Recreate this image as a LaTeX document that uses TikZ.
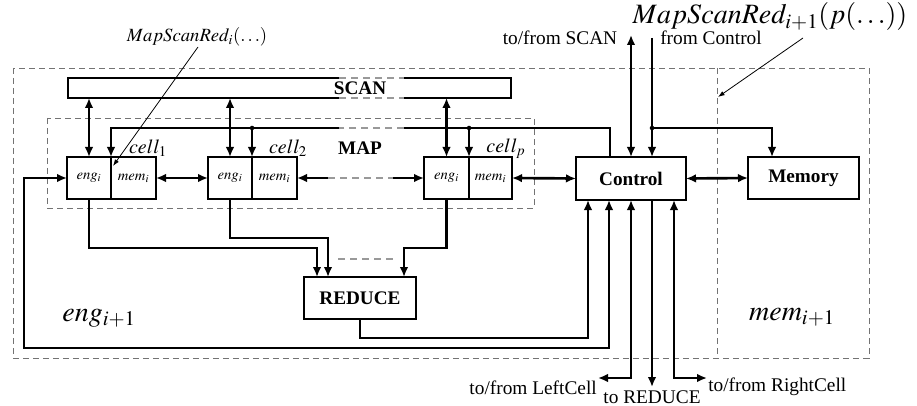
\documentclass[tikz,border=0pt]{standalone}
\usepackage{mathptmx}
\usepackage{fontspec}
\setmainfont{Liberation Serif}
\usetikzlibrary{arrows.meta}
\begin{document}
\begin{tikzpicture}[x=0.75pt,y=-0.75pt,
  thk/.style={line width=2pt, line join=miter},
  dbox/.style={draw=black!55, line width=0.7pt, dash pattern=on 4.5pt off 3pt},
  gdash/.style={draw=black!40, line width=1.1pt, dash pattern=on 5pt off 4pt},
  box/.style={draw, line width=2pt, inner sep=0pt, outer sep=0pt},
  ann/.style={line width=0.6pt, -{Latex[length=5pt,width=3.5pt]}},
  >={Latex[length=7.5pt,width=6.5pt]},
  boldf/.style={font=\fontsize{14.4}{16}\selectfont\bfseries},
  txtf/.style={font=\fontsize{14.5}{16}\selectfont},
  smallf/.style={font=\fontsize{11}{13}\selectfont},
  cellf/.style={font=\fontsize{15}{17}\selectfont},
  bigf/.style={font=\fontsize{21}{24}\selectfont},
  medf/.style={font=\fontsize{14}{16}\selectfont}]
\useasboundingbox (0,0) rectangle (917,406);

% dashed frames
\draw[dbox] (13,68) rectangle (869,358);
\draw[dbox] (717,68) -- (717,358);
\draw[dbox] (47,118) rectangle (534,208);

% cells
\node[box, minimum width=33pt, minimum height=31.5pt, smallf] (c1e) at (89,178) {$eng_i$};
\node[box, minimum width=33.75pt, minimum height=31.5pt, smallf] (c1m) at (133.5,178) {$mem_i$};
\node[box, minimum width=33pt, minimum height=31.5pt, smallf] (c2e) at (230,178) {$eng_i$};
\node[box, minimum width=33.75pt, minimum height=31.5pt, smallf] (c2m) at (274.5,178) {$mem_i$};
\node[box, minimum width=33.75pt, minimum height=31.5pt, smallf] (cpe) at (446.5,178) {$eng_i$};
\node[box, minimum width=32.25pt, minimum height=31.5pt, smallf] (cpm) at (490.5,178) {$mem_i$};

\node[box, minimum width=82.5pt, minimum height=32.25pt, boldf] (ctl) at (631,178.5) {Control};
\node[box, minimum width=83.25pt, minimum height=31.5pt, boldf] (mem) at (803.5,178) {Memory};
\node[box, minimum width=84pt, minimum height=31.5pt, boldf] (red) at (360,298) {REDUCE};

% SCAN bar
\draw[thk] (339,78) -- (68,78) -- (68,98) -- (339,98);
\draw[thk] (404,78) -- (511,78) -- (511,98) -- (404,98);
\draw[gdash] (339,78) -- (404,78);
\draw[gdash] (339,98) -- (404,98);
\node[boldf] (scan) at (360,88) {SCAN};
\coordinate (scanB) at (0,98);
\draw[thk,<->] (c1e.north) -- (c1e.north |- scanB);
\draw[thk,<->] (c2e.north) -- (c2e.north |- scanB);
\draw[thk,<->] (cpe.north) -- (cpe.north |- scanB);

% MAP line
\node[boldf] (map) at (360,148) {MAP};
\coordinate (mapR) at (610,128);
\coordinate (gapR) at (404,128);
\coordinate (gapL) at (339,128);
\coordinate (mapL) at (111,128);
\draw[thk] (mapR |- ctl.north) -- (mapR) -- (gapR);
\draw[gdash] (gapR) -- (gapL);
\draw[thk,->] (gapL) -- (mapL) -- (c1e.north east);
\fill (c2e.north east |- mapL) circle (1.7pt);
\draw[thk,->] (c2e.north east |- mapL) -- (c2e.north east);
\fill (cpe.north east |- mapL) circle (1.7pt);
\draw[thk,->] (cpe.north east |- mapL) -- (cpe.north east);

\node[cellf] (l1) at (148,148) {$cell_1$};
\node[cellf] (l2) at (288,148) {$cell_2$};
\node[cellf] (lp) at (506,149) {$cell_p$};

% horizontal links
\draw[thk,<->] (c1m.east) -- (c2e.west);
\coordinate (dl) at (328,178);
\coordinate (dr) at (393,178);
\draw[thk,->] (dl) -- (c2m.east);
\draw[gdash] (dl) -- (dr);
\draw[thk,->] (dr) -- (cpe.west);
\draw[thk,<->] (cpm.east) -- (ctl.west);
\draw[thk,<->] (ctl.east) -- (mem.west);

% outer loop
\coordinate (lpA) at (609,348);
\coordinate (lpB) at (24,348);
\draw[thk,<->] (c1e.west) -- (lpB |- c1e.west) -- (lpB) -- (lpA) -- (lpA |- ctl.south);

% reduce inputs
\coordinate (r1) at (317,248);
\coordinate (r2) at (328,238);
\coordinate (r3) at (404,248);
\draw[thk,->] (c1e.south) |- (r1) -- (r1 |- red.north);
\draw[thk,->] (c2e.south) |- (r2) -- (r2 |- red.north);
\draw[thk,->] (cpe.south) |- (r3) -- (r3 |- red.north);
\draw[gdash] (338,259) -- (397,259);

% reduce output
\coordinate (ro) at (588,338);
\draw[thk,->] (red.south) |- (ro) -- (ro |- ctl.south);

% control bottom
\coordinate (lc) at (598,378);
\draw[thk,<->] (ctl.south) |- (lc);
\coordinate (tr) at (652,387);
\draw[thk,->] (tr |- ctl.south) -- (tr);
\coordinate (rcx) at (674,378);
\coordinate (rc) at (707,378);
\draw[thk,<->] (rcx |- ctl.south) -- (rcx) -- (rc);

% control top
\coordinate (ts) at (631,35);
\draw[thk,<->] (ctl.north) -- (ts);
\coordinate (fc) at (652,38);
\draw[thk,->] (fc) -- (fc |- ctl.north);
\coordinate (fcd) at (652,128);
\coordinate (mm) at (772,128);
\fill (fcd) circle (1.7pt);
\draw[thk,->] (fcd) -- (mm) -- (mm |- mem.north);

% labels
\node[txtf] (tscan) at (560,38) {to/from SCAN};
\node[txtf] (fctl) at (711,38) {from Control};
\node[bigf] (msr2) at (770,17) {$MapScanRed_{i+1}(p(\ldots))$};
\coordinate (a2s) at (803,38);
\coordinate (a2e) at (718,97);
\draw[ann] (a2s) -- (a2e);
\node[medf] (msr1) at (197,37) {$MapScanRed_i(\ldots)$};
\coordinate (a1s) at (198,47);
\coordinate (a1e) at (113,166);
\draw[ann] (a1s) -- (a1e);

\node[bigf] (engl) at (99,318) {$eng_{i+1}$};
\node[bigf] (meml) at (792,317) {$mem_{i+1}$};

\node[txtf, anchor=east, inner sep=0pt] (tlc) at (597,388) {to/from LeftCell};
\node[txtf, anchor=base, inner sep=0pt] (tred) at (652,403) {to REDUCE};
\node[txtf, anchor=west, inner sep=0pt] (trc) at (708,387) {to/from RightCell};
\end{tikzpicture}
\end{document}
